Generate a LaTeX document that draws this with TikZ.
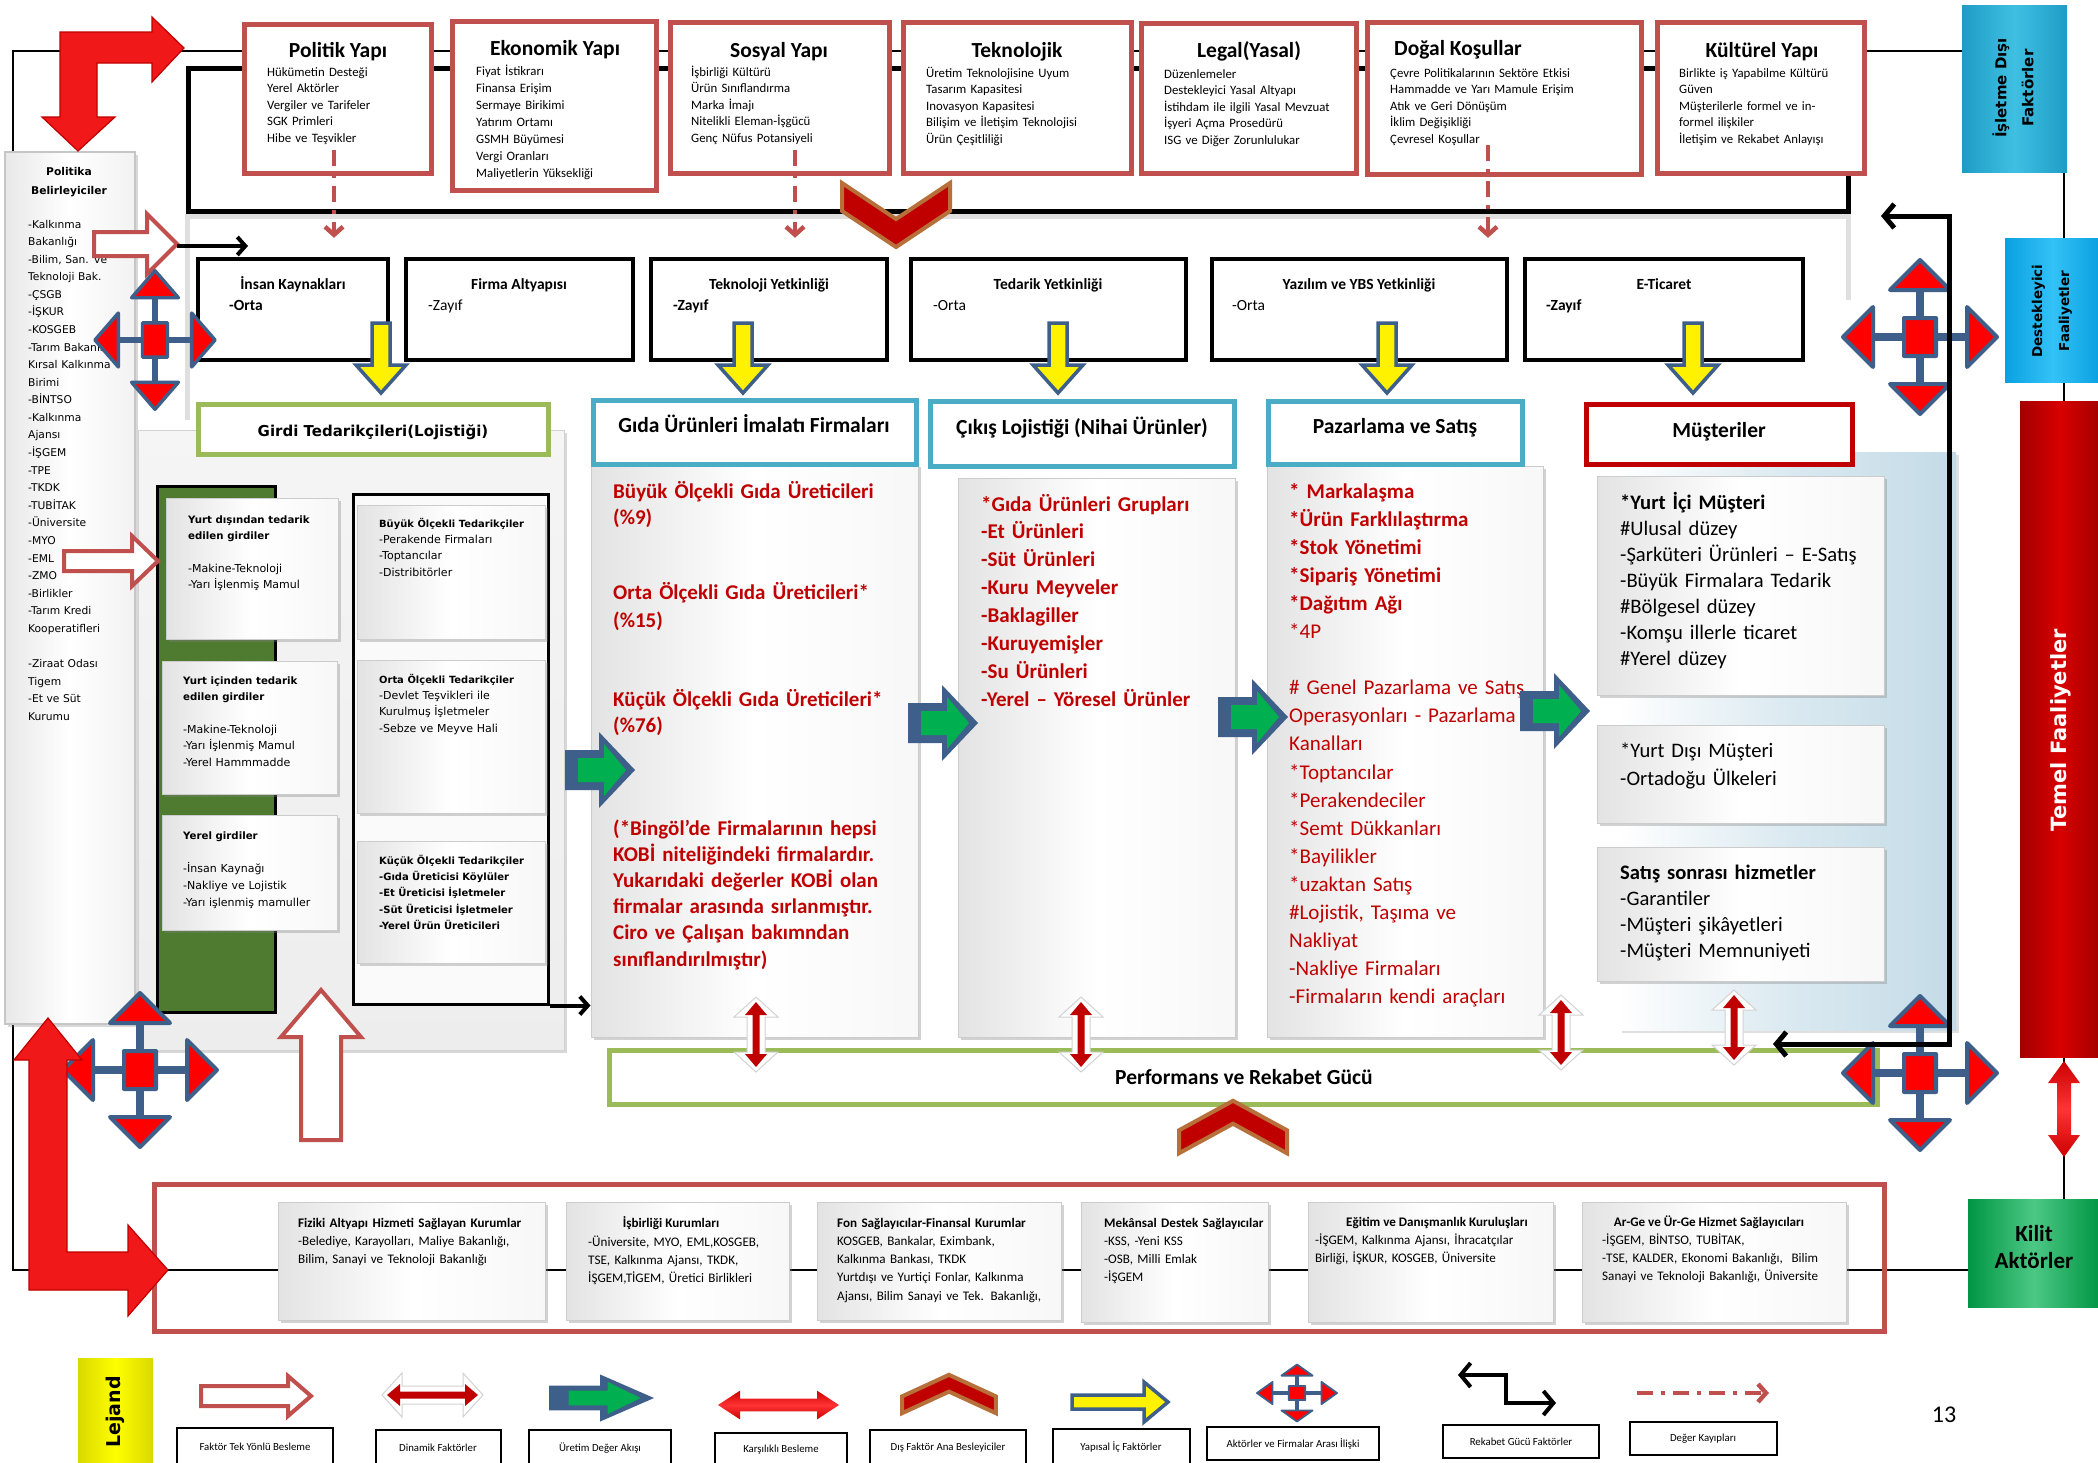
\documentclass[tikz,border=0pt]{standalone}
\usepackage{fontspec}
\setmainfont{Carlito}
\newfontfamily\vsans{DejaVu Sans}
\usetikzlibrary{arrows.meta,shadows,fit,calc}
\definecolor{brick}{HTML}{C0504D}
\definecolor{dred}{HTML}{C00000}
\definecolor{tealb}{HTML}{4BACC6}
\definecolor{lgreen}{HTML}{9BBB59}
\definecolor{ablue}{HTML}{3E5F8A}
\definecolor{dgreen}{HTML}{4F7B31}
\definecolor{pgreen}{HTML}{00B050}
\definecolor{chevbrown}{HTML}{B8703A}
\definecolor{bright}{HTML}{F01818}
\definecolor{skyb}{HTML}{C3DBE7}
\definecolor{isdedge}{HTML}{1F9CC6}
\definecolor{isdmid}{HTML}{3FC0E2}
\definecolor{desedge}{HTML}{0AA0E0}
\definecolor{desmid}{HTML}{33C2F7}
\newcommand\fs[2]{\fontsize{#1}{#2}\selectfont}
\tikzset{
  thinline/.style={draw=black, line width=1.6},
  thickline/.style={draw=black, line width=5},
  topbox/.style={draw=brick, line width=5, fill=white, inner sep=0,
    drop shadow={opacity=.25, shadow xshift=2pt, shadow yshift=-2pt}},
  rowbox/.style={draw=black, line width=4.5, fill=white, inner sep=0},
  headbox/.style={line width=5, fill=white, inner sep=0},
  bevel/.style={draw=gray!40, line width=1, left color=gray!22, right color=gray!6,
    middle color=white, inner sep=0,
    drop shadow={opacity=.35, shadow xshift=3pt, shadow yshift=-3pt}},
  sidebox/.style={inner sep=0, line width=1.5},
  tx/.style={anchor=base west, inner sep=0, align=left, text width=600pt},
  ttl/.style={anchor=base, inner sep=0},
  rot/.style={rotate=90, align=center, inner sep=0},
  lgbox/.style={draw=black, line width=1.2, fill=white, inner sep=0},
  lgtext/.style={inner sep=0, font=\fs{10.8}{12}},
  hollowline/.style={draw=brick, line width=4, fill=white, line join=miter},
  yellowline/.style={draw=ablue, line width=3.5, fill=yellow, line join=miter},
  valueloss/.style={draw=brick, line width=4.5, dash pattern=on 16pt off 8pt on 4pt off 8pt,
    -{Straight Barb[length=8pt, width=18pt]}},
  blackarr/.style={draw=black, line width=4, -{Straight Barb[length=8pt, width=18pt]}},
  rekabet/.style={draw=black, line width=5,
    {Straight Barb[length=10pt, width=24pt]}-{Straight Barb[length=10pt, width=24pt]}},
  redL/.style={fill=bright, draw=dred, line width=1.2, line join=miter},
  pics/hollowarr/.style args={#1/#2/#3/#4}{code={
    \draw[hollowline] (0,-#4) -- ({#1-#2},-#4) -- ({#1-#2},-#3) -- (#1,0)
      -- ({#1-#2},#3) -- ({#1-#2},#4) -- (0,#4) -- cycle;}},
  pics/yarr/.style args={#1/#2/#3/#4}{code={
    \draw[yellowline] (0,-#4) -- ({#1-#2},-#4) -- ({#1-#2},-#3) -- (#1,0)
      -- ({#1-#2},#3) -- ({#1-#2},#4) -- (0,#4) -- cycle;}},
  pics/garr/.style={code={
    \fill[ablue] (0,-20) -- (34,-20) -- (34,-38) -- (70,0) -- (34,38) -- (34,20) -- (0,20) -- cycle;
    \fill[pgreen] (13,-12) -- (39,-12) -- (39,-26) -- (61,0) -- (39,26) -- (39,12) -- (13,12) -- cycle;}},
  pics/cross/.style={code={
    \draw[ablue, line width=#1*8pt] (-50,0) -- (50,0) (0,-50) -- (0,50);
    \filldraw[fill=red, draw=ablue, line width=#1*4pt, line join=round]
      (-47,-30) -- (-77,0) -- (-47,30) -- cycle
      (47,-30) -- (77,0) -- (47,30) -- cycle
      (-30,-47) -- (0,-77) -- (30,-47) -- cycle
      (-30,47) -- (0,77) -- (30,47) -- cycle
      (-16,-19) rectangle (16,19);}},
  pics/chevron/.style={code={
    \filldraw[fill=dred, draw=chevbrown, line width=4, line join=miter]
      (-54,-32) -- (0,4) -- (54,-32) -- (54,-4) -- (0,32) -- (-54,-4) -- cycle;}},
  pics/dynarr/.style={code={
    \filldraw[fill=white, draw=gray!35, line width=1]
      (0,0) -- (20,-22) -- (20,-9) -- ({#1-20},-9) -- ({#1-20},-22) -- (#1,0)
      -- ({#1-20},22) -- ({#1-20},9) -- (20,9) -- (20,22) -- cycle;
    \fill[dred] (5,0) -- (18,-11) -- (18,-3.5) -- ({#1-18},-3.5) -- ({#1-18},-11) -- ({#1-5},0)
      -- ({#1-18},11) -- ({#1-18},3.5) -- (18,3.5) -- (18,11) -- cycle;}},
  pics/mutarr/.style={code={
    \shade[top color=red!80!black, bottom color=red!80!black, middle color=red!80!white]
      (0,0) -- (22,-16) -- (22,-7) -- ({#1-22},-7) -- ({#1-22},-16) -- (#1,0)
      -- ({#1-22},16) -- ({#1-22},7) -- (22,7) -- (22,16) -- cycle;}},
}
\begin{document}
\begin{tikzpicture}[x=1pt, y=-1pt]
\useasboundingbox (0,0) rectangle (2098,1462);
\fill[white] (0,0) rectangle (2098,1462);

% outer frame and the bracket of the external factors
\draw[thinline] (13,51) rectangle (2064,1270);
\draw[thickline] (188,68) rectangle (1848,211);
\draw[gray!25, line width=5] (187,420) -- (187,216) -- (1848,216) -- (1848,300);

% external factor boxes
\node[topbox, fit={(244,24)(431,173)}] (pol) {};
\node[topbox, fit={(452,21)(656,190)}] (eko) {};
\node[topbox, fit={(670,22)(889,173)}] (sos) {};
\node[topbox, fit={(903,22)(1131,173)}] (tek) {};
\node[topbox, fit={(1141,23)(1356,173)}] (leg) {};
\node[topbox, fit={(1367,22)(1641,174)}] (dog) {};
\node[topbox, fit={(1657,22)(1864,173)}] (kul) {};
\begin{scope}[every node/.append style={font=\bfseries\fs{21.5}{24}}]
\node[ttl] (polT) at (338,57) {Politik Yapı};
\node[ttl] (ekoT) at (555,55) {Ekonomik Yapı};
\node[ttl] (sosT) at (779,57) {Sosyal Yapı};
\node[ttl] (tekT) at (1017,57) {Teknolojik};
\node[ttl] (legT) at (1249,57) {Legal(Yasal)};
\node[ttl, anchor=base west] (dogT) at (1394,55) {Doğal Koşullar};
\node[ttl] (kulT) at (1762,57) {Kültürel Yapı};
\end{scope}
\begin{scope}[every node/.append style={font=\fs{12.8}{16.6}}]
\node[tx] (polL) at (267,76) {Hükümetin Desteği\\Yerel Aktörler\\Vergiler ve Tarifeler\\SGK Primleri\\Hibe ve Teşvikler};
\node[tx, font=\fs{12.8}{17}] (ekoL) at (476,75) {Fiyat İstikrarı\\Finansa Erişim\\Sermaye Birikimi\\Yatırım Ortamı\\GSMH Büyümesi\\Vergi Oranları\\Maliyetlerin Yüksekliği};
\node[tx] (sosL) at (691,76) {İşbirliği Kültürü\\Ürün Sınıflandırma\\Marka İmajı\\Nitelikli Eleman-İşgücü\\Genç Nüfus Potansiyeli};
\node[tx] (tekL) at (926,77) {Üretim Teknolojisine Uyum\\Tasarım Kapasitesi\\Inovasyon Kapasitesi\\Bilişim ve İletişim Teknolojisi\\Ürün Çeşitliliği};
\node[tx] (legL) at (1164,78) {Düzenlemeler\\Destekleyici Yasal Altyapı\\İstihdam ile ilgili Yasal Mevzuat\\İşyeri Açma Prosedürü\\ISG ve Diğer Zorunlulukar};
\node[tx] (dogL) at (1390,77) {Çevre Politikalarının Sektöre Etkisi\\Hammadde ve Yarı Mamule Erişim\\Atık ve Geri Dönüşüm\\İklim Değişikliği\\Çevresel Koşullar};
\node[tx] (kulL) at (1679,77) {Birlikte iş Yapabilme Kültürü\\Güven\\\makebox[163pt][s]{Müşterilerle formel ve in-}\\formel ilişkiler\\İletişim ve Rekabet Anlayışı};
\end{scope}

% right-hand category boxes
\node[fit={(1962,5)(2067,172)}, inner sep=0, left color=isdedge, right color=isdedge, middle color=isdmid] (isd) {};
\node[rot, font=\vsans\bfseries\fs{15}{27}] (isdT) at (2013,88) {İşletme Dışı\\Faktörler};
\node[fit={(2005,238)(2100,382)}, inner sep=0, left color=desedge, right color=desedge, middle color=desmid] (des) {};
\node[rot, font=\vsans\bfseries\fs{13.5}{27}] (desT) at (2052,311) {Destekleyici\\Faaliyetler};
\node[fit={(2020,401)(2100,1057)}, inner sep=0, left color=dred!85!black, right color=dred!85!black, middle color=red!85!black] (tem) {};
\node[rot, text=white, font=\vsans\bfseries\fs{21}{25}] (temT) at (2061,730) {Temel Faaliyetler};
\node[fit={(1968,1199)(2100,1307)}, inner sep=0, left color=pgreen!85!black, right color=pgreen!85!black, middle color=pgreen!70!white] (kil) {};
\node[align=center, inner sep=0, font=\bfseries\fs{23}{27}] (kilT) at (2034,1247) {Kilit\\Aktörler};

% support activities row
\node[rowbox, fit={(198,259)(388,360)}] (ink) {};
\node[rowbox, fit={(406,259)(633,360)}] (fir) {};
\node[rowbox, fit={(651,259)(887,360)}] (tky) {};
\node[rowbox, fit={(911,259)(1186,360)}] (ted) {};
\node[rowbox, fit={(1212,259)(1507,360)}] (yaz) {};
\node[rowbox, fit={(1525,259)(1803,360)}] (eti) {};
\begin{scope}[every node/.append style={font=\bfseries\fs{15.5}{18}}]
\node[ttl] (inkT) at (293,289) {İnsan Kaynakları};
\node[ttl] (firT) at (519,289) {Firma Altyapısı};
\node[ttl] (tkyT) at (769,289) {Teknoloji Yetkinliği};
\node[ttl] (tedT) at (1048,289) {Tedarik Yetkinliği};
\node[ttl] (yazT) at (1359,289) {Yazılım ve YBS Yetkinliği};
\node[ttl] (etiT) at (1664,289) {E-Ticaret};
\node[ttl, anchor=base west] (inkS) at (229,310) {-Orta};
\node[ttl, anchor=base west, font=\fs{15.5}{18}] (firS) at (428,310) {-Zayıf};
\node[ttl, anchor=base west] (tkyS) at (673,310) {-Zayıf};
\node[ttl, anchor=base west, font=\fs{15.5}{18}] (tedS) at (933,310) {-Orta};
\node[ttl, anchor=base west, font=\fs{15.5}{18}] (yazS) at (1232,310) {-Orta};
\node[ttl, anchor=base west] (etiS) at (1546,310) {-Zayıf};
\end{scope}

% input suppliers column
\node[fit={(138,430)(564,1050)}, inner sep=0, draw=gray!35, line width=1, top color=gray!8, bottom color=gray!14,
  drop shadow={opacity=.3, shadow xshift=3pt, shadow yshift=-3pt}] (girp) {};
\node[fit={(157,486)(275,1012)}, inner sep=0, fill=dgreen, draw=black, line width=3] (gcol) {};
\node[fit={(353,494)(548,1004)}, inner sep=0, fill=gray!4, draw=black, line width=3] (rr) {};
\node[bevel, fit={(166,498)(338,639)}] (b1) {};
\node[bevel, fit={(162,661)(337,794)}] (b2) {};
\node[bevel, fit={(162,815)(337,930)}] (b3) {};
\node[bevel, fit={(357,505)(545,639)}] (r1) {};
\node[bevel, fit={(357,660)(545,813)}] (r2) {};
\node[bevel, fit={(357,841)(545,963)}] (r3) {};
\newcommand\gb[1]{{\fontsize{10.2}{16.4}\selectfont\bfseries #1}}
\begin{scope}[every node/.append style={font=\vsans\fs{11}{16.4}}]
\node[tx] (b1T) at (188,523) {\gb{Yurt dışından tedarik}\\\gb{edilen girdiler}\\\mbox{}\\-Makine-Teknoloji\\-Yarı İşlenmiş Mamul};
\node[tx] (b2T) at (183,684) {\gb{Yurt içinden tedarik}\\\gb{edilen girdiler}\\\mbox{}\\-Makine-Teknoloji\\-Yarı İşlenmiş Mamul\\-Yerel Hammmadde};
\node[tx, font=\vsans\fs{11}{16.8}] (b3T) at (183,839) {\gb{Yerel girdiler}\\\mbox{}\\-İnsan Kaynağı\\-Nakliye ve Lojistik\\-Yarı işlenmiş mamuller};
\node[tx] (r1T) at (379,527) {{\fontsize{9.9}{16.4}\selectfont\bfseries Büyük Ölçekli Tedarikçiler}\\-Perakende Firmaları\\-Toptancılar\\-Distribitörler};
\node[tx] (r2T) at (379,683) {{\fontsize{9.9}{16.4}\selectfont\bfseries Orta Ölçekli Tedarikçiler}\\-Devlet Teşvikleri ile\\Kurulmuş İşletmeler\\-Sebze ve Meyve Hali};
\node[tx, font=\vsans\bfseries\fs{10}{16.4}] (r3T) at (379,864) {Küçük Ölçekli Tedarikçiler\\-Gıda Üreticisi Köylüler\\-Et Üreticisi İşletmeler\\-Süt Üreticisi İşletmeler\\-Yerel Ürün Üreticileri};
\end{scope}

% value chain panels
\node[bevel, fit={(591,464)(918,1037)}] (gidp) {};
\node[bevel, fit={(958,478)(1235,1037)}] (cikp) {};
\node[bevel, fit={(1267,466)(1543,1037)}] (pazp) {};
\node[fit={(1619,452)(1956,1030)}, inner sep=0, left color=white, right color=skyb, middle color=skyb!60,
  drop shadow={opacity=.25, shadow xshift=3pt, shadow yshift=-3pt}] (musp) {};
\node[bevel, fit={(1597,476)(1884,695)}] (m1) {};
\node[bevel, fit={(1597,725)(1884,823)}] (m2) {};
\node[bevel, fit={(1597,847)(1884,981)}] (m3) {};

\begin{scope}[every node/.append style={text=dred, font=\bfseries\fs{21}{26.5}}]
\node[tx] (gidA) at (613,498) {Büyük Ölçekli Gıda Üreticileri\\(\%9)};
\node[tx, font=\bfseries\fs{21}{28}] (gidB) at (613,599) {Orta Ölçekli Gıda Üreticileri*\\(\%15)};
\node[tx, font=\bfseries\fs{21}{26}] (gidC) at (613,706) {Küçük Ölçekli Gıda Üreticileri*\\(\%76)};
\node[tx, font=\bfseries\fs{21}{26.2}] (gidD) at (613,835) {(*Bingöl’de Firmalarının hepsi\\KOBİ niteliğindeki firmalardır.\\Yukarıdaki değerler KOBİ olan\\firmalar arasında sırlanmıştır.\\Ciro ve Çalışan bakımndan\\sınıflandırılmıştır)};
\node[tx, font=\bfseries\fs{21}{27.9}] (cikT) at (981,511) {*Gıda Ürünleri Grupları\\-Et Ürünleri\\-Süt Ürünleri\\-Kuru Meyveler\\-Baklagiller\\-Kuruyemişler\\-Su Ürünleri\\-Yerel – Yöresel Ürünler};
\node[tx, font=\fs{21}{28.1}] (pazT) at (1289,498) {\textbf{* Markalaşma}\\\textbf{*Ürün Farklılaştırma}\\\textbf{*Stok Yönetimi}\\\textbf{*Sipariş Yönetimi}\\\textbf{*Dağıtım Ağı}\\{}*4P\\\mbox{}\\\# Genel Pazarlama ve Satış\\Operasyonları - Pazarlama\\Kanalları\\{}*Toptancılar\\{}*Perakendeciler\\{}*Semt Dükkanları\\{}*Bayilikler\\{}*uzaktan Satış\\\#Lojistik, Taşıma ve\\Nakliyat\\-Nakliye Firmaları\\-Firmaların kendi araçları};
\end{scope}
\begin{scope}[every node/.append style={font=\fs{20.6}{26}}]
\node[tx] (m1T) at (1620,509) {\textbf{*Yurt İçi Müşteri}\\\#Ulusal düzey\\-Şarküteri Ürünleri – E-Satış\\-Büyük Firmalara Tedarik\\\#Bölgesel düzey\\-Komşu illerle ticaret\\\#Yerel düzey};
\node[tx, font=\fs{20.6}{28}] (m2T) at (1620,757) {*Yurt Dışı Müşteri\\-Ortadoğu Ülkeleri};
\node[tx, font=\fs{20.6}{26.3}] (m3T) at (1620,879) {\textbf{Satış sonrası hizmetler}\\-Garantiler\\-Müşteri şikâyetleri\\-Müşteri Memnuniyeti};
\end{scope}

% primary activity headers
\node[headbox, draw=lgreen, fit={(198,404)(548,454)}] (gir) {};
\node[headbox, draw=tealb, fit={(593,400)(916,464)}] (gid) {};
\node[headbox, draw=tealb, fit={(930,401)(1234,466)}] (cik) {};
\node[headbox, draw=tealb, fit={(1268,401)(1522,464)}] (paz) {};
\node[headbox, draw=dred, fit={(1586,404)(1852,464)}] (mus) {};
\node[ttl, font=\vsans\bfseries\fs{15}{18}] (girT) at (373,436) {Girdi Tedarikçileri(Lojistiği)};
\begin{scope}[every node/.append style={font=\bfseries\fs{21.5}{24}}]
\node[ttl] (gidH) at (754,432) {Gıda Ürünleri İmalatı Firmaları};
\node[ttl] (cikH) at (1082,434) {Çıkış Lojistiği (Nihai Ürünler)};
\node[ttl] (pazH) at (1395,433) {Pazarlama ve Satış};
\node[ttl] (musH) at (1719,437) {Müşteriler};
\end{scope}

% performance bar
\node[headbox, draw=lgreen, fit={(609,1050)(1877,1104)}] (perf) {};
\node[ttl, font=\bfseries\fs{21.5}{24}] (perfT) at (1244,1084) {Performans ve Rekabet Gücü};

% key actors
\node[fit={(154,1184)(1884,1331)}, inner sep=0, draw=brick, line width=5] (kfr) {};
\node[bevel, fit={(278,1202)(545,1320)}] (k1) {};
\node[bevel, fit={(566,1202)(789,1320)}] (k2) {};
\node[bevel, fit={(817,1202)(1061,1320)}] (k3) {};
\node[bevel, fit={(1081,1202)(1268,1322)}] (k4) {};
\node[bevel, fit={(1308,1202)(1553,1322)}] (k5) {};
\node[bevel, fit={(1582,1202)(1846,1322)}] (k6) {};
\begin{scope}[every node/.append style={font=\fs{13.1}{18.3}}]
\node[tx] (k1T) at (298,1227) {\textbf{Fiziki Altyapı Hizmeti Sağlayan Kurumlar}\\-Belediye, Karayolları, Maliye Bakanlığı,\\Bilim, Sanayi ve Teknoloji Bakanlığı};
\node[ttl, font=\bfseries\fs{13.1}{18.3}] (k2H) at (671,1227) {İşbirliği Kurumları};
\node[tx] (k2T) at (588,1246) {-Üniversite, MYO, EML,KOSGEB,\\TSE, Kalkınma Ajansı, TKDK,\\İŞGEM,TİGEM, Üretici Birlikleri};
\node[tx] (k3T) at (837,1227) {\textbf{Fon Sağlayıcılar-Finansal Kurumlar}\\KOSGEB, Bankalar, Eximbank,\\Kalkınma Bankası, TKDK\\Yurtdışı ve Yurtiçi Fonlar, Kalkınma\\Ajansı, Bilim Sanayi ve Tek. Bakanlığı,};
\node[tx] (k4T) at (1104,1227) {\textbf{Mekânsal Destek Sağlayıcılar}\\-KSS, -Yeni KSS\\-OSB, Milli Emlak\\-İŞGEM};
\node[ttl, font=\bfseries\fs{13.1}{18.3}] (k5H) at (1437,1226) {Eğitim ve Danışmanlık Kuruluşları};
\node[tx] (k5T) at (1315,1244) {-İŞGEM, Kalkınma Ajansı, İhracatçılar\\Birliği, İŞKUR, KOSGEB, Üniversite};
\node[ttl, font=\bfseries\fs{13.1}{18.3}] (k6H) at (1709,1226) {Ar-Ge ve Ür-Ge Hizmet Sağlayıcıları};
\node[tx] (k6T) at (1602,1244) {-İŞGEM, BİNTSO, TUBİTAK,\\-TSE, KALDER, Ekonomi Bakanlığı,\ \ Bilim\\Sanayi ve Teknoloji Bakanlığı, Üniversite};
\end{scope}

% policy makers
\node[fit={(5,152)(135,1024)}, sidebox, draw=gray!45, left color=gray!18, right color=gray!10, middle color=white,
  drop shadow={opacity=.3, shadow xshift=3pt, shadow yshift=-3pt}] (pb) {};
\node[ttl, font=\vsans\bfseries\fs{10.7}{18.5}] (pbT) at (69,175) {Politika};
\node[ttl, font=\vsans\bfseries\fs{10.7}{18.5}] (pbT2) at (69,194) {Belirleyiciler};
\node[tx, font=\vsans\fs{10.7}{17.58}] (pbL) at (28,228) {-Kalkınma\\Bakanlığı\\-Bilim, San. ve\\Teknoloji Bak.\\-ÇSGB\\-İŞKUR\\-KOSGEB\\-Tarım Bakanlığı\\Kırsal Kalkınma\\Birimi\\-BİNTSO\\-Kalkınma\\Ajansı\\-İŞGEM\\-TPE\\-TKDK\\-TUBİTAK\\-Üniversite\\-MYO\\-EML\\-ZMO\\-Birlikler\\-Tarım Kredi\\Kooperatifleri\\\mbox{}\\-Ziraat Odası\\Tigem\\-Et ve Süt\\Kurumu};

% structural internal factors
\foreach \xx [count=\i] in {381,743,1058,1387,1693}
  \pic[rotate=-90] (ya\i) at (\xx,323) {yarr=70/28/25/9};

% production value flow
\pic (ga1) at (565,770) {garr};
\pic (ga2) at (908,723) {garr};
\pic (ga3) at (1218,717) {garr};
\pic (ga4) at (1520,711) {garr};

% one-way feeding arrows
\pic (ha1) at (94,244) {hollowarr=83/30/30/12};
\pic (ha2) at (64,561) {hollowarr=94/26/25/10};
\pic[rotate=90] (ha3) at (321,1140) {hollowarr=150/47/40/20};

% actor relation crosses
\pic[xscale=.78, yscale=.9] (cr1) at (155,340) {cross=.85};
\pic (cr2) at (1920,337) {cross=1};
\pic (cr3) at (140,1070) {cross=1};
\pic (cr4) at (1920,1073) {cross=1};

% main external feeders
\pic (ch1) at (896,215) {chevron};
\pic[yscale=-.82] (ch2) at (1233,1127) {chevron};

% dynamic factors
\pic[rotate=-90] (dy1) at (756,997) {dynarr=75};
\pic[rotate=-90] (dy2) at (1081,997) {dynarr=75};
\pic[rotate=-90] (dy3) at (1561,995) {dynarr=75};
\pic[rotate=-90] (dy4) at (1734,990) {dynarr=75};
\pic[rotate=-90] (mu1) at (2064,1061) {mutarr=96};

% large bent feeding arrows
\fill[redL] (60,32) -- (152,32) -- (152,17) -- (184,48) -- (152,82) -- (152,63) -- (97,63)
  -- (97,117) -- (115,117) -- (78,151) -- (42,117) -- (60,117) -- cycle;
\fill[redL] (29,1060) -- (14,1060) -- (48,1018) -- (82,1060) -- (67,1060) -- (67,1252) -- (128,1252)
  -- (128,1225) -- (168,1270) -- (128,1316) -- (128,1290) -- (29,1290) -- cycle;

% value losses
\coordinate (polv) at (334,150);
\coordinate (sosv) at (795,150);
\coordinate (dogv) at (1488,145);
\draw[valueloss, shorten >=19pt] (polv) -- (polv |- ink.north);
\draw[valueloss, shorten >=19pt] (sosv) -- (sosv |- tky.north);
\draw[valueloss, shorten >=19pt] (dogv) -- (dogv |- yaz.north);

% black connectors
\coordinate (hatip) at (177,246);
\coordinate (inkin) at (248,246);
\draw[blackarr] (hatip) -- (inkin);
\draw[blackarr] (rr.south east) -- (rr.south east -| gidp.west);
\coordinate (rkA) at (1881,216);
\coordinate (rkB) at (1773,1044);
\draw[rekabet] (rkA) -- ++(68,0) |- (rkB);

% legend
\node[fit={(78,1358)(153,1470)}, inner sep=0, left color=yellow!85!black, right color=yellow!85!black, middle color=yellow] (lej) {};
\node[rot, font=\vsans\bfseries\fs{19}{22}] (lejT) at (115,1412) {Lejand};
\node[lgbox, fit={(177,1428)(333,1466)}] (l1) {};
\node[lgbox, fit={(376,1430)(501,1466)}] (l2) {};
\node[lgbox, fit={(529,1430)(671,1466)}] (l3) {};
\node[lgbox, fit={(715,1433)(847,1466)}] (l4) {};
\node[lgbox, fit={(870,1430)(1026,1466)}] (l5) {};
\node[lgbox, fit={(1053,1429)(1190,1466)}] (l6) {};
\node[lgbox, fit={(1207,1427)(1379,1460)}] (l7) {};
\node[lgbox, fit={(1443,1425)(1599,1458)}] (l8) {};
\node[lgbox, fit={(1630,1422)(1777,1455)}] (l9) {};
\node[lgtext] (l1T) at (255,1447) {Faktör Tek Yönlü Besleme};
\node[lgtext] (l2T) at (438,1448) {Dinamik Faktörler};
\node[lgtext] (l3T) at (600,1448) {Üretim Değer Akışı};
\node[lgtext] (l4T) at (781,1450) {Karşılıklı Besleme};
\node[lgtext] (l5T) at (948,1448) {Dış Faktör Ana Besleyiciler};
\node[lgtext] (l6T) at (1121,1447) {Yapısal İç Faktörler};
\node[lgtext] (l7T) at (1293,1444) {Aktörler ve Firmalar Arası İlişki};
\node[lgtext] (l8T) at (1521,1442) {Rekabet Gücü Faktörler};
\node[lgtext] (l9T) at (1703,1439) {Değer Kayıpları};
\pic (lg1) at (201,1396) {hollowarr=110/23/20/10};
\pic (lg2) at (382,1395) {dynarr=101};
\pic[xscale=1.5, yscale=.62] (lg3) at (549,1398) {garr};
\pic[yscale=.9] (lg4) at (718,1405) {mutarr=121};
\pic[xscale=.87, yscale=-.6] (lg5) at (949,1394) {chevron};
\pic (lg6) at (1072,1402) {yarr=96/24/20/7};
\pic[xscale=.52, yscale=.37] (lg7) at (1297,1393) {cross=.45};
\coordinate (lgA) at (1458,1375);
\coordinate (lgB) at (1556,1403);
\draw[rekabet, line width=4] (lgA) -- ++(48,0) |- (lgB);
\coordinate (lgC) at (1637,1393);
\coordinate (lgD) at (1769,1393);
\draw[valueloss] (lgC) -- (lgD);
\node[inner sep=0, font=\fs{24}{28}] (pgno) at (1944,1415) {13};
\end{tikzpicture}
\end{document}
